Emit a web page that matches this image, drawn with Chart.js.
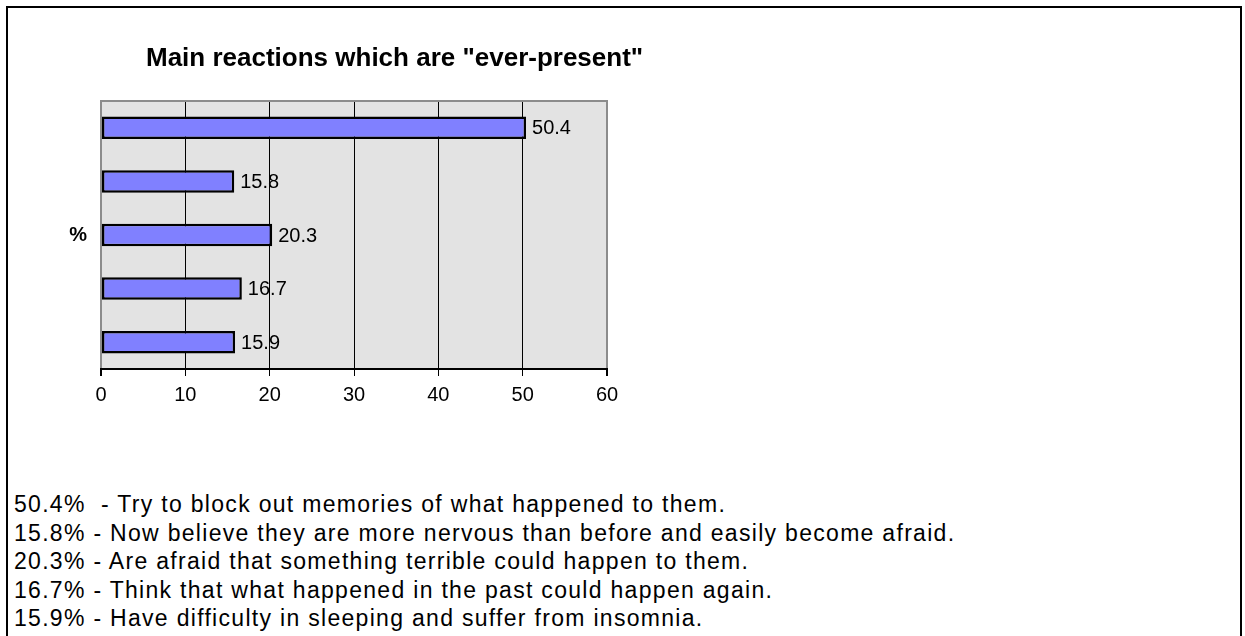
<!DOCTYPE html>
<html>
<head>
<meta charset="utf-8">
<script src="https://cdn.jsdelivr.net/npm/chart.js@4.4.0/dist/chart.umd.min.js"></script>
<style>
  body { margin: 0; background: #fff; font-family: "Liberation Sans", Arial, sans-serif; }
  #frame { position: absolute; left: 6px; top: 6px; width: 1236px; height: 700px;
           border: 2px solid #000; box-sizing: border-box; }
  #grafico { position: absolute; left: 0; top: 0; }
  #notas { position: absolute; left: 14px; top: 490px; font-size: 23px; line-height: 28.5px;
           color: #000; white-space: pre; letter-spacing: 1.3px; }
</style>
</head>
<body>
<div id="frame"></div>
<canvas id="grafico" width="740" height="440"></canvas>
<div id="notas"></div>

<script>
// datos del grafico
var categorias = [
    'Try to block out memories of what happened to them.',
    'Now believe they are more nervous than before and easily become afraid.',
    'Are afraid that something terrible could happen to them.',
    'Think that what happened in the past could happen again.',
    'Have difficulty in sleeping and suffer from insomnia.'
];
var valores = [50.4, 15.8, 20.3, 16.7, 15.9];
var separadores = ['  - ', ' - ', ' - ', ' - ', ' - '];
var tituloTexto = 'Main reactions which are "ever-present"';
var ejeMin = 0, ejeMax = 60, ejePaso = 10;

// notas de abajo
var notas = document.getElementById('notas');
notas.textContent = valores.map(function(v, i) {
    return v.toFixed(1) + '%' + separadores[i] + categorias[i];
}).join('\n');

// fondo gris y borde del area
var fondoPlugin = {
    id: 'fondo',
    beforeDraw: function(chart) {
        var a = chart.chartArea, c = chart.ctx;
        c.save();
        c.fillStyle = '#e3e3e3';
        c.fillRect(a.left, a.top, a.right - a.left, a.bottom - a.top);
        c.restore();
    },
    afterDraw: function(chart) {
        var a = chart.chartArea, c = chart.ctx;
        c.save();
        c.strokeStyle = '#8c8c8c';
        c.lineWidth = 2;
        c.beginPath();
        c.moveTo(a.left - 1, a.top);
        c.lineTo(a.right + 1, a.top);
        c.stroke();
        // titulo
        c.fillStyle = '#000';
        c.font = 'bold 26px "Liberation Sans", Arial, sans-serif';
        c.textBaseline = 'alphabetic';
        c.textAlign = 'left';
        c.fillText(tituloTexto, 146, 66);
        // etiqueta %
        c.font = 'bold 20px "Liberation Sans", Arial, sans-serif';
        c.textAlign = 'right';
        c.textBaseline = 'middle';
        c.fillText('%', 87, (a.top + a.bottom) / 2);
        c.restore();
    },
    afterDatasetsDraw: function(chart) {
        var c = chart.ctx;
        var meta = chart.getDatasetMeta(0);
        c.save();
        c.fillStyle = '#000';
        c.font = '20px "Liberation Sans", Arial, sans-serif';
        c.textAlign = 'left';
        c.textBaseline = 'middle';
        meta.data.forEach(function(bar, i) {
            c.fillText(valores[i].toFixed(1), bar.x + 6, bar.y + 1);
        });
        c.restore();
    }
};

document.addEventListener("DOMContentLoaded", function() {
    var ctx = document.getElementById("grafico").getContext('2d');
    var migrafica = new Chart(ctx, {
        type: 'bar',
        data: {
            labels: categorias,
            datasets: [{
                label: '%',
                data: valores,
                backgroundColor: '#8080ff',
                borderColor: '#000000',
                borderWidth: 2.5,
                borderSkipped: false,
                barPercentage: 0.42,
                categoryPercentage: 1.0
            }]
        },
        options: {
            indexAxis: 'y',
            responsive: false,
            animation: false,
            devicePixelRatio: 1,
            layout: { padding: { left: 101, top: 101, right: 133, bottom: 26 } },
            plugins: {
                legend: { display: false },
                tooltip: { enabled: false },
                title: { display: false }
            },
            scales: {
                x: {
                    min: ejeMin,
                    max: ejeMax,
                    ticks: {
                        stepSize: ejePaso,
                        color: '#000',
                        padding: 7,
                        font: { family: '"Liberation Sans", Arial, sans-serif', size: 20 }
                    },
                    grid: {
                        color: function(context) {
                            var v = context.tick ? context.tick.value : null;
                            return (v === ejeMin || v === ejeMax) ? '#8c8c8c' : '#000';
                        },
                        lineWidth: function(context) {
                            var v = context.tick ? context.tick.value : null;
                            return (v === ejeMin || v === ejeMax) ? 2 : 1;
                        },
                        tickColor: '#000',
                        tickLength: 7
                    },
                    border: { display: true, color: '#000', width: 2 }
                },
                y: {
                    display: false
                }
            }
        },
        plugins: [fondoPlugin]
    });
});
</script>
</body>
</html>
